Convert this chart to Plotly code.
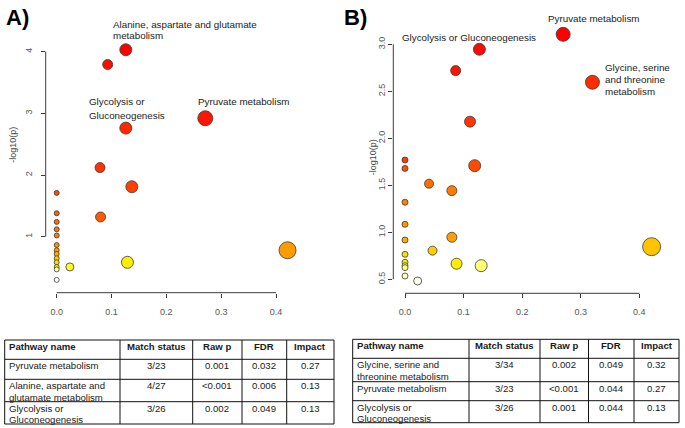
import plotly.graph_objects as go

W, H = 685, 428

# ---------------- data ----------------
# Panel A: pathway impact (x) vs -log10(p) (y)
a_impact = [0.126, 0.093, 0.271, 0.126, 0.079, 0.137, 0.080, 0.421, 0.129, 0.024,
            0.0, 0.0, 0.0, 0.0, 0.0, 0.0, 0.0, 0.0, 0.0, 0.0, 0.0, 0.0, 0.0]
a_logp = [4.03, 3.79, 2.92, 2.76, 2.12, 1.81, 1.32, 0.78, 0.585, 0.51,
          1.71, 1.38, 1.24, 1.12, 1.02, 0.865, 0.78, 0.72, 0.65, 0.585, 0.51, 0.47, 0.30]
a_size = [12, 10, 15, 12, 10, 12, 10, 17, 12, 8,
          5, 5, 5, 5, 5, 5, 5, 5, 5, 5, 5, 5, 5]
a_color = ["#ff0000", "#ff0c00", "#ff1600", "#ff2600", "#ff3200", "#ff4000", "#ff5a00",
           "#ff9a00", "#ffee00", "#ffff22",
           "#ff4800", "#ff6000", "#ff6a00", "#ff7400", "#ff7c00", "#ff9000", "#ff9e00",
           "#ffae00", "#ffc800", "#ffdd00", "#fff000", "#ffff90", "#ffffff"]

# Panel B
b_impact = [0.270, 0.127, 0.0865, 0.320, 0.111, 0.119, 0.041, 0.080, 0.080, 0.047,
            0.421, 0.088, 0.130, 0.0216,
            0.0, 0.0, 0.0, 0.0, 0.0, 0.0, 0.0, 0.0, 0.0, 0.0]
b_logp = [3.106, 2.947, 2.72, 2.596, 2.177, 1.709, 1.517, 1.443, 0.947, 0.805,
          0.847, 0.666, 0.645, 0.482,
          1.769, 1.68, 1.32, 1.085, 0.918, 0.766, 0.681, 0.645, 0.624, 0.535]
b_size = [14, 12, 10, 14, 11, 12, 9, 10, 10, 9,
          18, 11, 12, 8,
          6, 6, 6, 6, 6, 6, 6, 6, 6, 6]
b_color = ["#ff0000", "#ff0a00", "#ff1400", "#ff2c00", "#ff3400", "#ff4a00", "#ff6c00",
           "#ff7c00", "#ffa000", "#ffcc00", "#ffc400", "#ffee00", "#ffff70", "#ffffee",
           "#ff3c00", "#ff5200", "#ff8200", "#ff9600", "#ffaa00", "#ffdd00", "#ffee00",
           "#ffff40", "#ffff80", "#ffffbb"]

x_ticks = [0.0, 0.1, 0.2, 0.3, 0.4]
x_ticklabels = ["0.0", "0.1", "0.2", "0.3", "0.4"]
a_yticks = [1, 2, 3, 4]
a_yticklabels = ["1", "2", "3", "4"]
b_yticks = [0.5, 1.0, 1.5, 2.0, 2.5, 3.0]
b_yticklabels = ["0.5", "1.0", "1.5", "2.0", "2.5", "3.0"]

# Labels of highlighted pathways (one entry per text line)
a_labels = ["Alanine, aspartate and glutamate", "metabolism", "Glycolysis or",
            "Gluconeogenesis", "Pyruvate metabolism"]
b_labels = ["Pyruvate metabolism", "Glycolysis or Gluconeogenesis", "Glycine, serine",
            "and threonine", "metabolism"]

# Tables
table_header = ["Pathway name", "Match status", "Raw p", "FDR", "Impact"]
a_table_rows = [
    ["Pyruvate metabolism", "3/23", "0.001", "0.032", "0.27"],
    ["Alanine, aspartate and\nglutamate metabolism", "4/27", "<0.001", "0.006", "0.13"],
    ["Glycolysis or\nGluconeogenesis", "3/26", "0.002", "0.049", "0.13"],
]
b_table_rows = [
    ["Glycine, serine and\nthreonine metabolism", "3/34", "0.002", "0.049", "0.32"],
    ["Pyruvate metabolism", "3/23", "<0.001", "0.044", "0.27"],
    ["Glycolysis or\nGluconeogenesis", "3/26", "0.001", "0.044", "0.13"],
]

# ---------------- layout constants (pixels) ----------------
def px(x):
    return x / W

def py(y):
    return 1 - y / H

FONT = "Liberation Sans, Arial, sans-serif"
EDGE = "#3a3a3a"

# plot areas: (left, right, top, bottom) in px
A_BOX = (45.7, 300.0, 35.0, 292.7)
B_BOX = (393.3, 665.0, 20.0, 293.3)
A_XR = [(45.7 - 56.7) / 548.3, (300.0 - 56.7) / 548.3]
A_YR = [1 + (236.7 - 292.7) / 61.7, 1 + (236.7 - 35.0) / 61.7]
B_XR = [(393.3 - 405.0) / 585.8, (665.0 - 405.0) / 585.8]
B_YR = [0.5 + (279.3 - 293.3) / 94.0, 0.5 + (279.3 - 20.0) / 94.0]

fig = go.Figure()

def add_panel(xs, ys, sizes, colors, xa, ya):
    fig.add_trace(go.Scatter(
        x=xs, y=ys, mode="markers", xaxis=xa, yaxis=ya, cliponaxis=False,
        showlegend=False, hoverinfo="x+y",
        marker=dict(size=sizes, color=colors, opacity=1,
                    line=dict(color=EDGE, width=0.8)),
    ))

add_panel(a_impact, a_logp, a_size, a_color, "x", "y")
add_panel(b_impact, b_logp, b_size, b_color, "x2", "y2")

axis_common = dict(showgrid=False, zeroline=False, showline=False, ticks="outside",
                   ticklen=4, tickwidth=1, tickcolor=EDGE,
                   tickfont=dict(family=FONT, size=9, color="#555555"))

fig.update_layout(
    width=W, height=H, autosize=False,
    margin=dict(l=0, r=0, t=0, b=0, pad=0),
    paper_bgcolor="white", plot_bgcolor="white",
    xaxis=dict(domain=[px(A_BOX[0]), px(A_BOX[1])], range=A_XR, anchor="y",
               tickvals=x_ticks, ticktext=x_ticklabels, ticklabelstandoff=6, **axis_common),
    yaxis=dict(domain=[py(A_BOX[3]), py(A_BOX[2])], range=A_YR, anchor="x",
               tickvals=a_yticks, ticktext=a_yticklabels, tickangle=-90,
               ticklabelstandoff=5, **axis_common),
    xaxis2=dict(domain=[px(B_BOX[0]), px(B_BOX[1])], range=B_XR, anchor="y2",
                tickvals=x_ticks, ticktext=x_ticklabels, ticklabelstandoff=6, **axis_common),
    yaxis2=dict(domain=[py(B_BOX[3]), py(B_BOX[2])], range=B_YR, anchor="x2",
                tickvals=b_yticks, ticktext=b_yticklabels, tickangle=-90, **axis_common),
)

shapes = []
# R-style axis lines spanning first to last tick
for xa, ya, yt in (("x", "y", a_yticks), ("x2", "y2", b_yticks)):
    shapes.append(dict(type="line", xref=xa, yref=ya + " domain", x0=x_ticks[0],
                       x1=x_ticks[-1], y0=0, y1=0, line=dict(color=EDGE, width=1)))
    shapes.append(dict(type="line", xref=xa + " domain", yref=ya, x0=0, x1=0,
                       y0=yt[0], y1=yt[-1], line=dict(color=EDGE, width=1)))

annotations = []

def label(text, x, y, size=9.8, xanchor="left", color="#222222", angle=0, bold=False):
    annotations.append(dict(
        text=("<b>%s</b>" % text) if bold else text, x=px(x), y=py(y),
        xref="paper", yref="paper", xanchor=xanchor, yanchor="middle",
        showarrow=False, textangle=angle, borderpad=0,
        font=dict(family=FONT, size=size, color=color)))

# panel letters
label("A)", 5, 17, size=22, bold=True, color="#000000")
label("B)", 343, 17, size=22, bold=True, color="#000000")
# y titles
label("-log10(p)", 12.7, 145, size=9, xanchor="center", color="#444444", angle=-90)
label("-log10(p)", 373.3, 157, size=9, xanchor="center", color="#444444", angle=-90)

# pathway labels (left x, centre y)
a_label_pos = [(111.5, 24.2), (111.5, 35.5), (87.5, 101.7), (87.5, 115), (196.5, 101)]
b_label_pos = [(546.5, 19), (401, 37.3), (604, 67.3), (604, 79.3), (604, 91)]
for t, (x, y) in zip(a_labels, a_label_pos):
    label(t, x, y)
for t, (x, y) in zip(b_labels, b_label_pos):
    label(t, x, y)

# ---------------- tables ----------------
A_COLS = [4.7, 120.0, 192.7, 242.0, 286.7, 334.0]
A_ROWS = [340.0, 359.3, 379.3, 401.7, 424.0]
B_COLS = [352.7, 469.0, 540.0, 588.5, 634.0, 679.0]
B_ROWS = [339.3, 358.3, 381.7, 400.7, 422.7]
LINE_H = 11.3
TOP_OFF = 6.6

def draw_table(cols, rows, header, body):
    for r in rows:
        shapes.append(dict(type="line", xref="paper", yref="paper", x0=px(cols[0]),
                           x1=px(cols[-1]), y0=py(r), y1=py(r),
                           line=dict(color="#111111", width=1)))
    for c in cols:
        shapes.append(dict(type="line", xref="paper", yref="paper", x0=px(c), x1=px(c),
                           y0=py(rows[0]), y1=py(rows[-1]),
                           line=dict(color="#111111", width=1)))
    all_rows = [header] + body
    for ri, rowvals in enumerate(all_rows):
        for ci, val in enumerate(rowvals):
            for k, line in enumerate(val.split("\n")):
                y = rows[ri] + TOP_OFF + k * LINE_H
                if ci == 0:
                    label(line, cols[0] + 3, y, size=9.6, color="#1a1a1a", bold=(ri == 0))
                else:
                    label(line, (cols[ci] + cols[ci + 1]) / 2, y, size=9.6,
                          xanchor="center", color="#1a1a1a", bold=(ri == 0))

draw_table(A_COLS, A_ROWS, table_header, a_table_rows)
draw_table(B_COLS, B_ROWS, table_header, b_table_rows)

fig.update_layout(shapes=shapes, annotations=annotations)
fig.write_html("out.html")
